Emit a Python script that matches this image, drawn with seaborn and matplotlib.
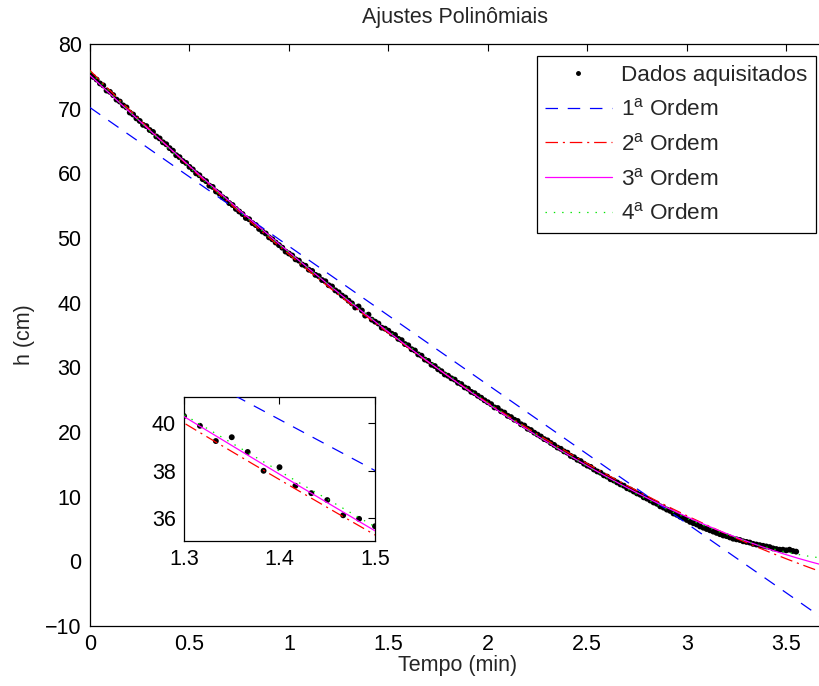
import numpy as np
import pandas as pd
import matplotlib
matplotlib.use("Agg")
import matplotlib.pyplot as plt
from matplotlib.lines import Line2D
import seaborn as sns

# ---------------- data (h in cm, sampled every second) ----------------
h_cm = [
    75.3, 74.9, 74.5, 73.9, 73.6, 72.8, 72.6, 72.1, 71.4, 71.1,
    70.5, 70.2, 69.4, 69.1, 68.5, 68.1, 67.5, 67.3, 66.7, 66.4,
    65.7, 65.4, 64.8, 64.5, 63.9, 63.5, 62.8, 62.5, 61.9, 61.6,
    61.0, 60.6, 60.0, 59.7, 59.1, 58.8, 58.1, 57.9, 57.2, 56.9,
    56.3, 56.0, 55.4, 55.1, 54.5, 54.1, 53.7, 53.1, 52.9, 52.3,
    52.0, 51.4, 51.0, 50.7, 50.1, 49.8, 49.3, 48.9, 48.5, 47.9,
    47.6, 47.3, 46.7, 46.5, 45.9, 45.7, 45.1, 44.9, 44.3, 44.1,
    43.5, 43.3, 42.7, 42.5, 41.9, 41.6, 41.1, 40.8, 40.3, 39.89,
    39.25, 39.41, 38.79, 38.0, 38.15, 37.37, 37.06, 36.77, 36.13, 35.98,
    35.67, 35.2, 35.0, 34.4, 34.2, 33.6, 33.4, 32.8, 32.6, 32.0,
    31.8, 31.2, 31.0, 30.4, 30.2, 29.7, 29.4, 28.9, 28.7, 28.3,
    28.1, 27.6, 27.4, 26.9, 26.7, 26.2, 26.0, 25.6, 25.3, 24.9,
    24.6, 24.3, 23.8, 23.7, 23.2, 23.0, 22.5, 22.3, 21.9, 21.7,
    21.2, 21.0, 20.5, 20.3, 19.9, 19.6, 19.3, 18.9, 18.7, 18.3,
    18.0, 17.6, 17.4, 17.0, 16.8, 16.3, 16.1, 15.7, 15.5, 15.1,
    14.8, 14.6, 14.2, 13.9, 13.7, 13.3, 13.1, 12.7, 12.5, 12.2,
    11.9, 11.7, 11.3, 11.1, 10.8, 10.5, 10.3, 9.9, 9.7, 9.4,
    9.1, 8.9, 8.5, 8.3, 8.0, 7.8, 7.4, 7.2, 6.9, 6.7,
    6.4, 6.1, 5.9, 5.7, 5.4, 5.2, 5.0, 4.8, 4.6, 4.4,
    4.2, 4.0, 3.9, 3.7, 3.5, 3.4, 3.3, 3.1, 3.0, 2.9,
    2.7, 2.6, 2.5, 2.4, 2.3, 2.2, 2.0, 1.9, 1.8, 1.8,
    1.7, 1.8, 1.6, 1.5,
]
sample_interval_s = 1.0
fit_orders = [1, 2, 3, 4]
fit_labels = [r"1$^{\mathrm{a}}$ Ordem", r"2$^{\mathrm{a}}$ Ordem",
              r"3$^{\mathrm{a}}$ Ordem", r"4$^{\mathrm{a}}$ Ordem"]
data_label = "Dados aquisitados"
title = "Ajustes Polinômiais"
x_label = "Tempo (min)"
y_label = "h (cm)"

tempo_min = np.arange(len(h_cm)) * sample_interval_s / 60.0
df = pd.DataFrame({"t": tempo_min, "h": h_cm})

# ---------------- style ----------------
sns.set_theme(style="white")
plt.rcParams["font.family"] = ["Liberation Sans", "DejaVu Sans"]
plt.rcParams["mathtext.fontset"] = "custom"
plt.rcParams["mathtext.rm"] = "Liberation Sans"
plt.rcParams["mathtext.it"] = "Liberation Sans:italic"
plt.rcParams["lines.scale_dashes"] = False
plt.rcParams["axes.edgecolor"] = "black"
plt.rcParams["axes.linewidth"] = 0.9
FS = 15.5

colors = [(0, 0, 1), (1, 0, 0), (1, 0, 1), (0, 0.9, 0)]
styles = [(0, (9, 7)), (0, (9, 3.5, 1.5, 3.5)), "-", (0, (1, 5))]

xmax = 3.7
t_fit = np.linspace(0, xmax, 500)
fits = []
for order in fit_orders:
    coef = np.polyfit(df["t"], df["h"], order)
    fits.append(pd.DataFrame({"t": t_fit, "h": np.polyval(coef, t_fit)}))

fig = plt.figure(figsize=(8.19, 6.86), dpi=100)
W, H = 819, 686


def draw(ax):
    sns.scatterplot(data=df, x="t", y="h", ax=ax, color="black", s=18,
                    edgecolor="none", linewidth=0, legend=False, zorder=2)
    for f, c, ls in zip(fits, colors, styles):
        sns.lineplot(data=f, x="t", y="h", ax=ax, color=c, linestyle=ls,
                     linewidth=0.9, estimator=None, sort=False, zorder=3)


def style_axes(ax):
    ax.tick_params(direction="in", length=5, width=0.8, top=True, right=True,
                   labelsize=FS, colors="black", pad=6)
    for s in ax.spines.values():
        s.set_visible(True)
        s.set_color("black")
    ax.set_xlabel("")
    ax.set_ylabel("")


# main axes
ax = fig.add_axes([90 / W, 1 - 626 / H, (826 - 90) / W, (626 - 44) / H])
draw(ax)
ax.set_xlim(0, xmax)
ax.set_ylim(-10, 80)
ax.set_xticks([0, 0.5, 1, 1.5, 2, 2.5, 3, 3.5])
ax.set_xticklabels(["0", "0.5", "1", "1.5", "2", "2.5", "3", "3.5"])
ax.set_yticks(np.arange(-10, 81, 10))
ax.set_yticklabels(["\u221210"] + [str(v) for v in range(0, 81, 10)])
style_axes(ax)
ax.set_xlabel(x_label, fontsize=FS, labelpad=0)
ax.set_ylabel(y_label, fontsize=FS, labelpad=7)
fig.text(455 / W, 1 - 18 / H, title, fontsize=FS, ha="center", va="center")

handles = [Line2D([], [], color="black", marker=".", markersize=5, linestyle="none")]
for c, ls in zip(colors, styles):
    handles.append(Line2D([], [], color=c, linestyle=ls, linewidth=0.9))
leg = ax.legend(handles, [data_label] + fit_labels, loc="upper right",
                bbox_to_anchor=(816 / W, 1 - 56 / H), bbox_transform=fig.transFigure,
                fontsize=16.2, frameon=True, fancybox=False, framealpha=1,
                edgecolor="black", handlelength=2.95, handletextpad=0.42,
                labelspacing=0.57, borderpad=0.38, borderaxespad=0)
leg.get_frame().set_linewidth(0.9)

# inset axes
ax2 = fig.add_axes([184 / W, 1 - 541 / H, (375 - 184) / W, (541 - 397) / H])
draw(ax2)
ax2.set_xlim(1.3, 1.5)
ax2.set_ylim(35.05, 41.1)
ax2.set_xticks([1.3, 1.4, 1.5])
ax2.set_xticklabels(["1.3", "1.4", "1.5"])
ax2.set_yticks([36, 38, 40])
style_axes(ax2)

fig.savefig("out.png", dpi=100)
